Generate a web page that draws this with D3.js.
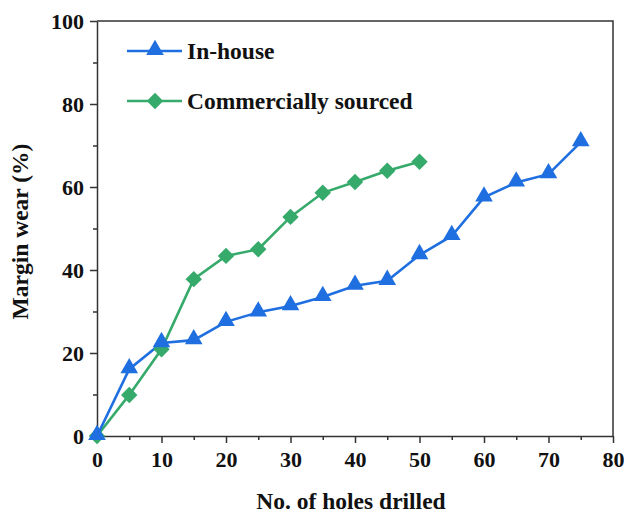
<!DOCTYPE html>
<meta charset="utf-8">
<script src="https://d3js.org/d3.v7.min.js"></script>
<style>
  body { margin: 0; background: #fff; }
  text { font-family: "Liberation Serif", "Times New Roman", serif; font-weight: bold; fill: #111; }
</style>
<div id="my_dataviz"></div>
<script>
// data
var holes = [0, 5, 10, 15, 20, 25, 30, 35, 40, 45, 50, 55, 60, 65, 70, 75];
var inHouse = [0, 16.1, 22.4, 23.1, 27.5, 29.8, 31.3, 33.5, 36.2, 37.4, 43.6, 48.2, 57.5, 61.1, 63.1, 70.8];
var holesCommercial = [0, 5, 10, 15, 20, 25, 30, 35, 40, 45, 50];
var commercial = [0, 9.9, 20.9, 37.8, 43.4, 45.0, 52.8, 58.6, 61.2, 63.9, 66.1];
var xTicks = [0, 10, 20, 30, 40, 50, 60, 70, 80];
var yTicks = [0, 20, 40, 60, 80, 100];
var seriesNames = ["In-house", "Commercially sourced"];

var margin = {top: 21, right: 11, bottom: 78, left: 97},
    width = 624 - margin.left - margin.right,
    height = 514 - margin.top - margin.bottom;

var svg = d3.select("#my_dataviz")
  .append("svg")
    .attr("width", 624)
    .attr("height", 514)
  .append("g")
    .attr("transform", "translate(" + margin.left + "," + margin.top + ")");

var x = d3.scaleLinear().domain([0, 80]).range([0, width]);
var y = d3.scaleLinear().domain([0, 100]).range([height, 0]);

var blue = "#1f6fe0", green = "#36aa6b", axisCol = "#333";

// minor ticks
svg.append("g")
  .attr("transform", "translate(0," + height + ")")
  .call(d3.axisBottom(x).tickValues(d3.range(5, 80, 10)).tickSize(4).tickFormat(""))
  .call(function(g) { g.select(".domain").remove(); })
  .selectAll("line").attr("stroke", axisCol).attr("stroke-width", 1.5);
svg.append("g")
  .call(d3.axisLeft(y).tickValues(d3.range(10, 100, 20)).tickSize(4).tickFormat(""))
  .call(function(g) { g.select(".domain").remove(); })
  .selectAll("line").attr("stroke", axisCol).attr("stroke-width", 1.5);

// major ticks
var xAxis = svg.append("g")
  .attr("transform", "translate(0," + height + ")")
  .call(d3.axisBottom(x).tickValues(xTicks).tickSize(7).tickSizeOuter(0).tickPadding(8));
var yAxis = svg.append("g")
  .call(d3.axisLeft(y).tickValues(yTicks).tickSize(7).tickSizeOuter(0).tickPadding(6));
[xAxis, yAxis].forEach(function(a) {
  a.selectAll("line").attr("stroke", axisCol).attr("stroke-width", 1.5);
  a.select(".domain").attr("stroke", axisCol).attr("stroke-width", 1.5);
  a.selectAll("text").style("font-size", "22px").attr("fill", "#111");
});

// top and right frame
svg.append("path")
  .attr("d", "M0,0H" + width + "V" + height)
  .attr("fill", "none").attr("stroke", axisCol).attr("stroke-width", 1.5);

// axis titles
svg.append("text")
  .attr("text-anchor", "middle")
  .attr("x", width / 2 - 4)
  .attr("y", height + 73)
  .style("font-size", "23.5px")
  .text("No. of holes drilled");
svg.append("text")
  .attr("text-anchor", "middle")
  .attr("transform", "rotate(-90)")
  .attr("x", -(y(50)) - 3)
  .attr("y", -69)
  .style("font-size", "23.5px")
  .text("Margin wear (%)");

var line = d3.line()
  .x(function(d) { return x(d[0]); })
  .y(function(d) { return y(d[1]); });

var tri = d3.symbol().type(d3.symbolTriangle).size(135);
var dia = d3.symbol().type(d3.symbolSquare).size(135);

var comData = holesCommercial.map(function(h, i) { return [h, commercial[i]]; });
var inData = holes.map(function(h, i) { return [h, inHouse[i]]; });

svg.append("path").datum(comData)
  .attr("d", line).attr("fill", "none").attr("stroke", green).attr("stroke-width", 2.6);
svg.append("path").datum(inData)
  .attr("d", line).attr("fill", "none").attr("stroke", blue).attr("stroke-width", 2.6);

svg.append("g").selectAll("path").data(comData).enter().append("path")
  .attr("d", dia)
  .attr("transform", function(d) { return "translate(" + x(d[0]) + "," + y(d[1]) + ") rotate(45)"; })
  .attr("fill", green);
svg.append("g").selectAll("path").data(inData).enter().append("path")
  .attr("d", tri)
  .attr("transform", function(d) { return "translate(" + x(d[0]) + "," + (y(d[1]) - 1) + ")"; })
  .attr("fill", blue);

// legend
var legend = svg.append("g").attr("transform", "translate(30,30)");
var legCols = [blue, green], legSym = [tri, dia];
seriesNames.forEach(function(name, i) {
  var g = legend.append("g").attr("transform", "translate(0," + (i * 50) + ")");
  g.append("line").attr("x1", 0).attr("x2", 55).attr("y1", 0).attr("y2", 0)
    .attr("stroke", legCols[i]).attr("stroke-width", 2.6);
  g.append("path").attr("d", legSym[i])
    .attr("transform", "translate(28," + (i == 0 ? -1 : 0) + ")" + (i == 1 ? " rotate(45)" : ""))
    .attr("fill", legCols[i]);
  g.append("text").attr("x", 60).attr("y", 8).style("font-size", "23.5px").text(name);
});
</script>
